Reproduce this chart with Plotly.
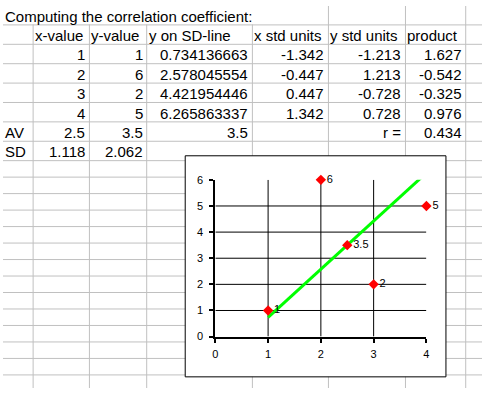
import plotly.graph_objects as go

# ---------------- data ----------------
title_text = "Computing the correlation coefficient:"
headers = ["x-value", "y-value", "y on SD-line", "x std units", "y std units", "product"]
x_values = [1, 2, 3, 4]
y_values = [1, 6, 2, 5]
sd_line = [0.734136663, 2.578045554, 4.421954446, 6.265863337]
x_std = [-1.342, -0.447, 0.447, 1.342]
y_std = [-1.213, 1.213, -0.728, 0.728]
product = [1.627, -0.542, -0.325, 0.976]
avg_label, sd_label, r_label = "AV", "SD", "r ="
avg_x, avg_y, avg_sdline = 2.5, 3.5, 3.5
sd_x, sd_y = 1.118, 2.062
r_value = 0.434
x_ticks = [0, 1, 2, 3, 4]
y_ticks = [0, 1, 2, 3, 4, 5, 6]
grid_x = [1, 2, 3]
grid_y = [1, 2, 3, 4, 5]

# ---------------- layout geometry (pixels) ----------------
W, H = 485, 394
col_edges = [0, 30, 87, 145, 252, 329, 407, 468, 485]
row_edges = [0, 19, 39, 59, 79, 99, 119, 139, 159] + [159 + 17 * k for k in range(1, 15)]
chart_box = (184, 154, 448, 382)          # left, top, right, bottom
plot_px = (215, 179.3, 428.7, 341)        # left, top(y=6), right(x=4), bottom(y=0)

FONT = "Liberation Sans, Arial, sans-serif"
GRID = "#c0c0c0"
CELL_FONT = 15


def px(x):
    return x / W


def py(y):
    return 1 - y / H


def fmt(v):
    return format(v, ".10g")


shapes = []
# sheet gridlines
for xe in col_edges[1:-1]:
    start = 0 if xe >= 329 else row_edges[1]  # title text overflows the first columns
    shapes.append(dict(type="line", xref="paper", yref="paper", layer="below",
                       x0=px(xe + 0.5), x1=px(xe + 0.5), y0=py(start), y1=py(H),
                       line=dict(color=GRID, width=1)))
for ye in row_edges[1:]:
    if ye > H:
        continue
    shapes.append(dict(type="line", xref="paper", yref="paper", layer="below",
                       x0=0, x1=1, y0=py(ye + 0.5), y1=py(ye + 0.5),
                       line=dict(color=GRID, width=1)))
# chart box
l, t, r, b = chart_box
shapes.append(dict(type="rect", xref="paper", yref="paper", layer="below",
                   x0=px(l + 0.5), x1=px(r + 0.5), y0=py(t + 0.5), y1=py(b + 0.5),
                   fillcolor="white", line=dict(color="black", width=1)))
# chart gridlines
for gy in grid_y:
    shapes.append(dict(type="line", xref="x", yref="y", layer="below",
                       x0=x_ticks[0], x1=x_ticks[-1], y0=gy, y1=gy,
                       line=dict(color="black", width=1)))
for gx in grid_x:
    shapes.append(dict(type="line", xref="x", yref="y", layer="below",
                       x0=gx, x1=gx, y0=y_ticks[0], y1=y_ticks[-1],
                       line=dict(color="black", width=1)))

# ---------------- cell texts ----------------
annotations = []


def cell(col, row, text, align):
    bottom = row_edges[row + 1]
    yc = bottom - 8.5
    if align == "left":
        x = col_edges[col] + 1.5
    else:
        x = col_edges[col + 1] - 2.5
    annotations.append(dict(xref="paper", yref="paper", x=px(x), y=py(yc),
                            xanchor=align, yanchor="middle", text=text,
                            showarrow=False, borderpad=0,
                            font=dict(family=FONT, size=CELL_FONT, color="black")))


cell(0, 0, title_text, "left")
for j, h in enumerate(headers):
    cell(j + 1, 1, h, "left")
for i in range(len(x_values)):
    row = 2 + i
    cell(1, row, fmt(x_values[i]), "right")
    cell(2, row, fmt(y_values[i]), "right")
    cell(3, row, fmt(sd_line[i]), "right")
    cell(4, row, fmt(x_std[i]), "right")
    cell(5, row, fmt(y_std[i]), "right")
    cell(6, row, fmt(product[i]), "right")
cell(0, 6, avg_label, "left")
cell(1, 6, fmt(avg_x), "right")
cell(2, 6, fmt(avg_y), "right")
cell(3, 6, fmt(avg_sdline), "right")
cell(5, 6, r_label, "right")
cell(6, 6, fmt(r_value), "right")
cell(0, 7, sd_label, "left")
cell(1, 7, fmt(sd_x), "right")
cell(2, 7, fmt(sd_y), "right")

# ---------------- chart traces ----------------
pts_x = x_values + [avg_x]
pts_y = y_values + [avg_y]
pts_text = [fmt(v) for v in pts_y]

fig = go.Figure()
fig.add_trace(go.Scatter(x=x_values, y=sd_line, mode="lines",
                         line=dict(color="#00ff00", width=3),
                         cliponaxis=False, showlegend=False, hoverinfo="skip"))
fig.add_trace(go.Scatter(x=pts_x, y=pts_y, mode="markers+text",
                         marker=dict(symbol="diamond", size=8, color="#ff0000",
                                     line=dict(width=0)),
                         text=pts_text, textposition="middle right",
                         textfont=dict(family=FONT, size=11, color="black"),
                         cliponaxis=False, showlegend=False, hoverinfo="skip"))

pl, pt, pr, pb = plot_px
fig.update_layout(
    width=W, height=H, autosize=False,
    margin=dict(l=0, r=0, t=0, b=0, pad=0),
    paper_bgcolor="white", plot_bgcolor="rgba(0,0,0,0)",
    shapes=shapes, annotations=annotations,
    font=dict(family=FONT, color="black"),
    xaxis=dict(domain=[px(pl), px(pr)], range=[x_ticks[0], x_ticks[-1]],
               tickvals=x_ticks, ticks="outside", ticklen=4, tickwidth=2,
               tickcolor="black", showline=True, linecolor="black", linewidth=2,
               showgrid=False, zeroline=False, ticklabelstandoff=2,
               tickfont=dict(family=FONT, size=11, color="black"), fixedrange=True),
    yaxis=dict(domain=[py(pb), py(pt)], range=[y_ticks[0], y_ticks[-1]],
               tickvals=y_ticks, ticks="outside", ticklen=4, tickwidth=2,
               tickcolor="black", showline=True, linecolor="black", linewidth=2,
               showgrid=False, zeroline=False, ticklabelstandoff=4,
               tickfont=dict(family=FONT, size=11, color="black"), fixedrange=True),
)

fig.write_html("out.html", config={"staticPlot": True},
               post_script="document.body.style.margin='0';")
